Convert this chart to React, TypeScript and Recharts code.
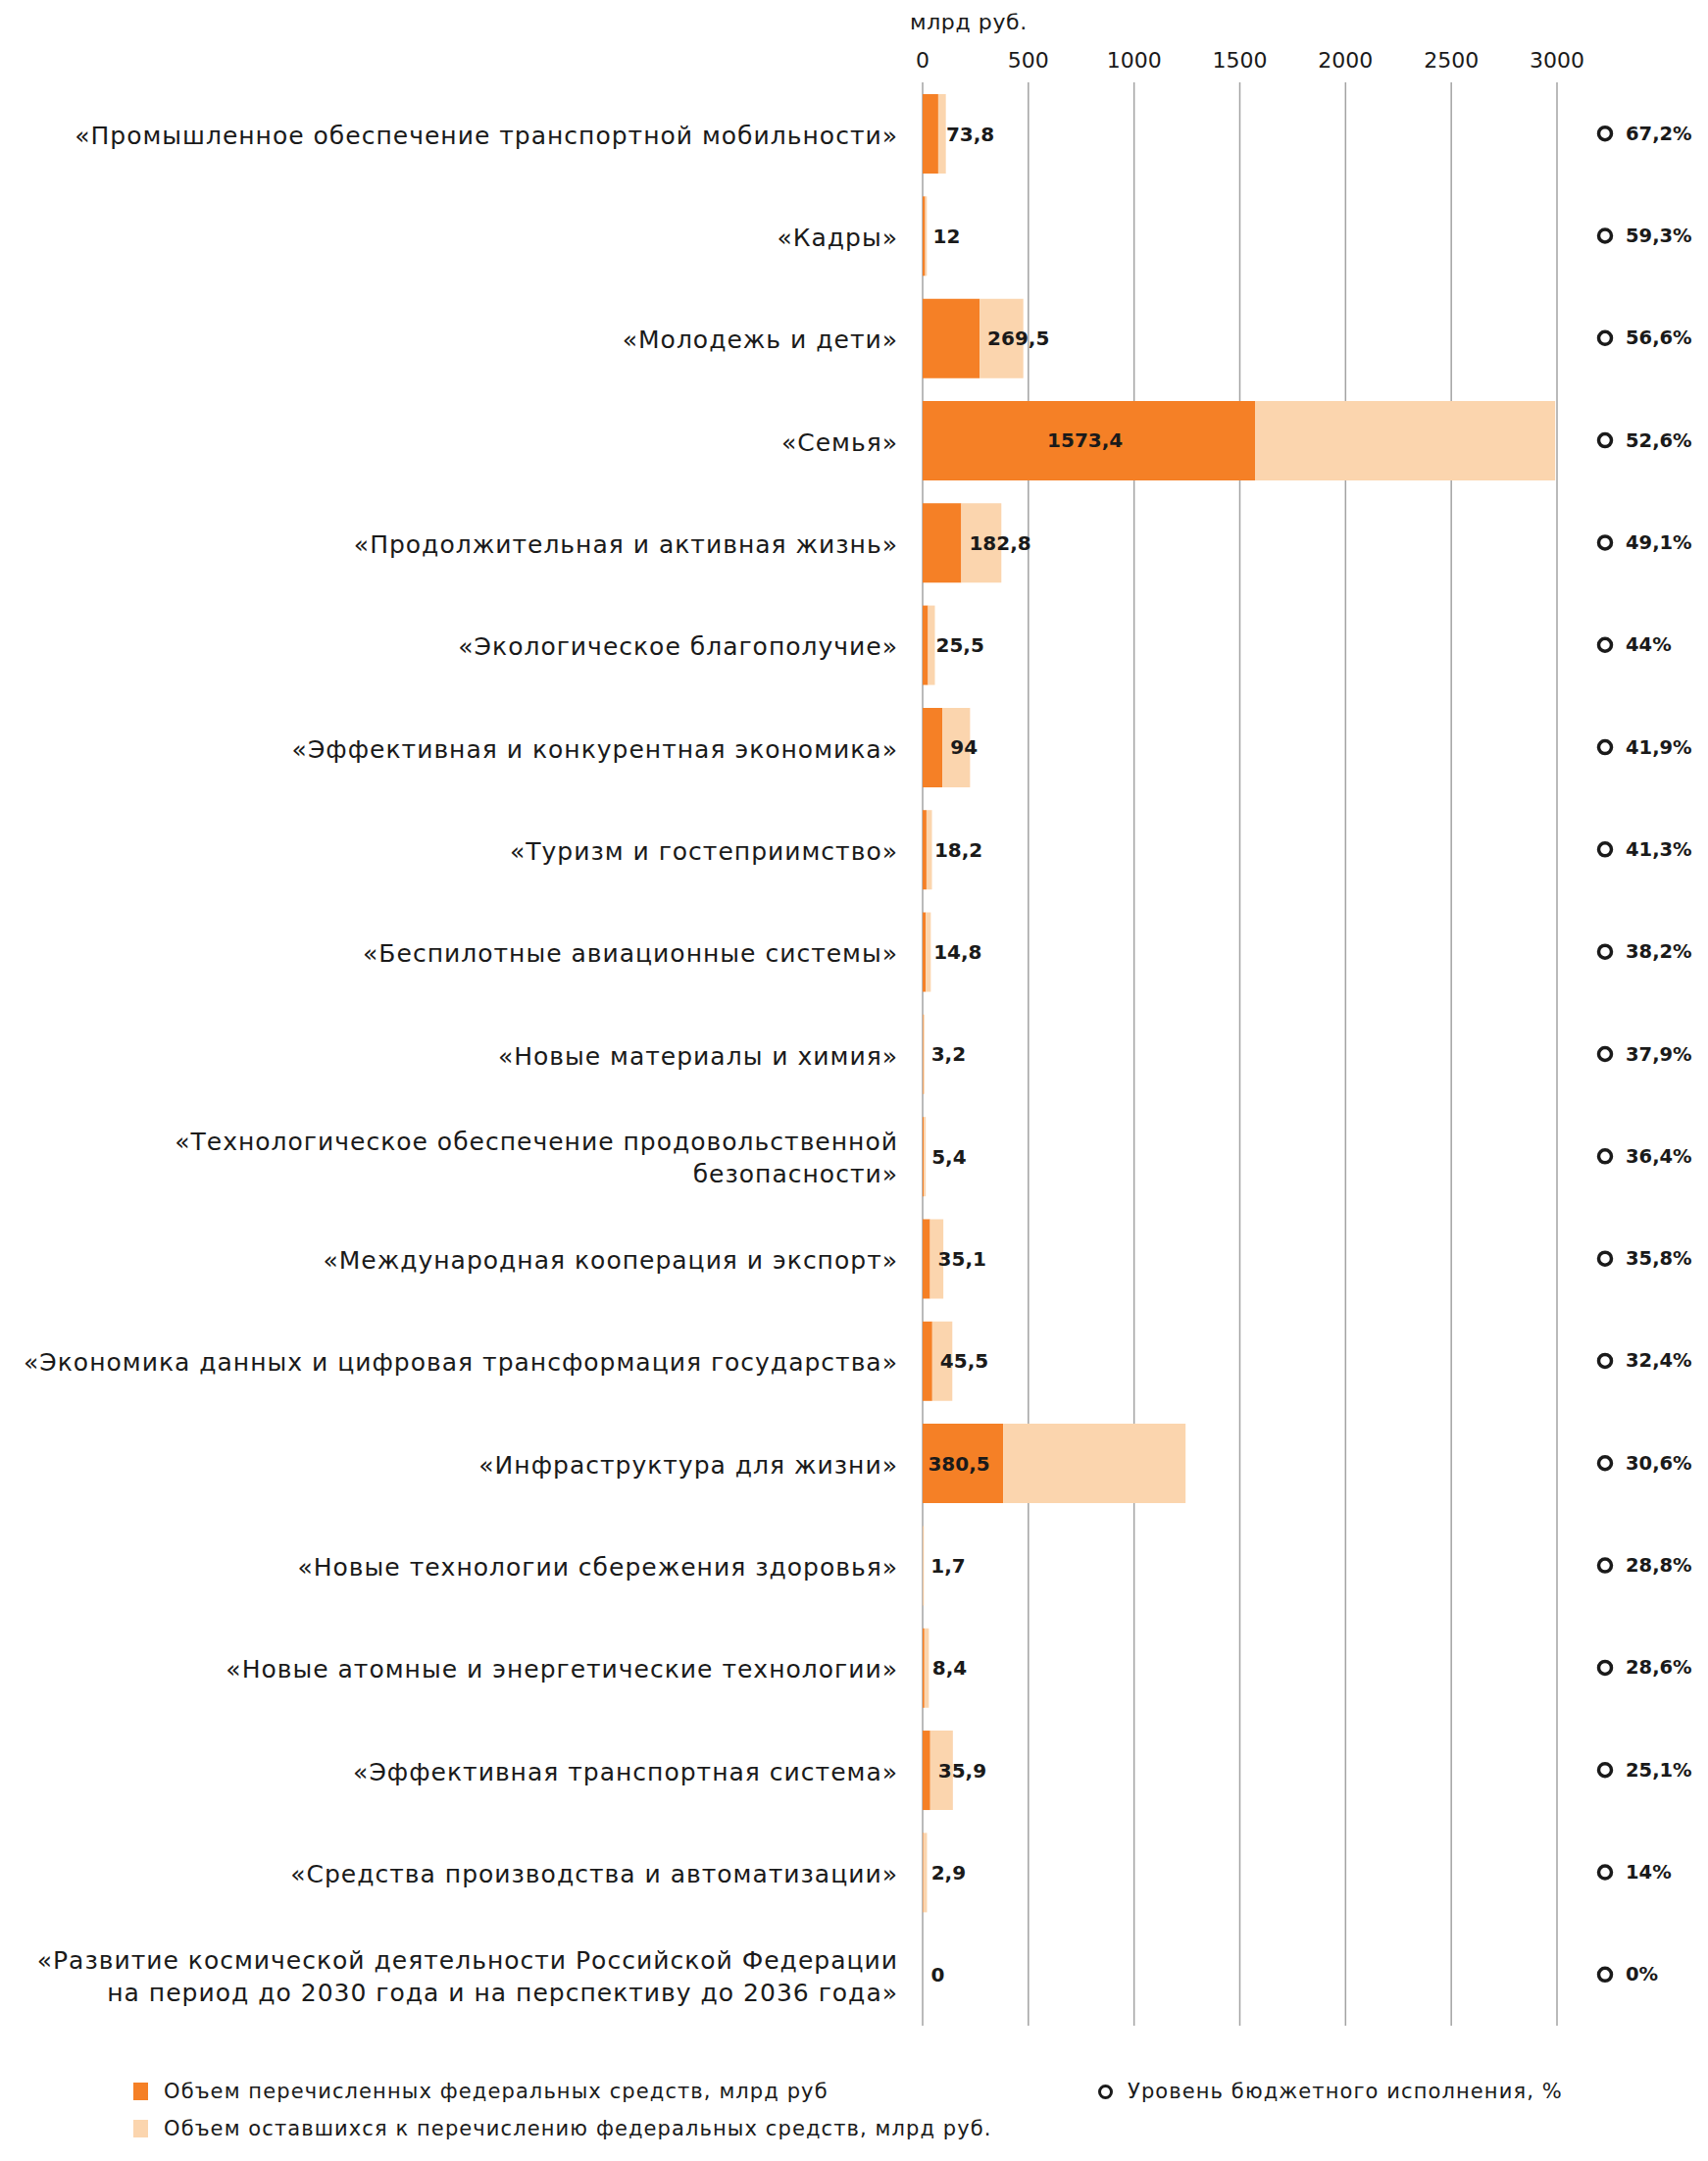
import { Bar, BarChart, CartesianGrid, Cell, LabelList, XAxis, YAxis } from "recharts";

// Национальные проекты: исполнение федерального бюджета
const categories = [
  "«Промышленное обеспечение транспортной мобильности»",
  "«Кадры»",
  "«Молодежь и дети»",
  "«Семья»",
  "«Продолжительная и активная жизнь»",
  "«Экологическое благополучие»",
  "«Эффективная и конкурентная экономика»",
  "«Туризм и гостеприимство»",
  "«Беспилотные авиационные системы»",
  "«Новые материалы и химия»",
  "«Технологическое обеспечение продовольственной\nбезопасности»",
  "«Международная кооперация и экспорт»",
  "«Экономика данных и цифровая трансформация государства»",
  "«Инфраструктура для жизни»",
  "«Новые технологии сбережения здоровья»",
  "«Новые атомные и энергетические технологии»",
  "«Эффективная транспортная система»",
  "«Средства производства и автоматизации»",
  "«Развитие космической деятельности Российской Федерации\nна период до 2030 года и на перспективу до 2036 года»",
];

// млрд руб.
const transferred = [
  73.8, 12, 269.5, 1573.4, 182.8, 25.5, 94, 18.2, 14.8, 3.2, 5.4, 35.1, 45.5,
  380.5, 1.7, 8.4, 35.9, 2.9, 0,
];
const remaining = [
  36.0, 8.2, 206.6, 1417.9, 189.5, 32.5, 130.3, 25.9, 23.9, 5.2, 9.4, 62.9,
  94.9, 863.0, 4.2, 21.0, 107.1, 17.8, 0,
];
// %
const execution = [
  67.2, 59.3, 56.6, 52.6, 49.1, 44, 41.9, 41.3, 38.2, 37.9, 36.4, 35.8, 32.4,
  30.6, 28.8, 28.6, 25.1, 14, 0,
];

const xTicks = [0, 500, 1000, 1500, 2000, 2500, 3000];
const axisUnit = "млрд руб.";
const legendItems = [
  "Объем перечисленных федеральных средств, млрд руб",
  "Объем оставшихся к перечислению федеральных средств, млрд руб.",
  "Уровень бюджетного исполнения, %",
];

const ORANGE = "#f58026";
const PEACH = "#fbd5ae";
const INK = "#1a1a1a";
const FONT = "'DejaVu Sans', 'Noto Sans', sans-serif";

const data = categories.map((name, i) => ({
  name,
  transferred: transferred[i],
  remaining: remaining[i],
  pct: execution[i],
}));

const fmt = (v: number) => String(v).replace(".", ",");

function CategoryTick(props: any) {
  const { x, y, payload } = props;
  const lines = String(payload.value).split("\n");
  const lh = 33;
  const start = -((lines.length - 1) * lh) / 2 + 2;
  return (
    <text
      x={x}
      y={y}
      textAnchor="end"
      fill={INK}
      fontFamily={FONT}
      fontSize={25}
      letterSpacing={1}
    >
      {lines.map((l, i) => (
        <tspan key={i} x={x} dy={i === 0 ? start : lh} dominantBaseline="central">
          {l}
        </tspan>
      ))}
    </text>
  );
}

function PctTick(props: any) {
  const { x, y, payload } = props;
  const row = data.find((d) => d.name === payload.value);
  if (!row) return null;
  return (
    <g>
      <circle cx={x + 49} cy={y} r={6.5} fill="none" stroke={INK} strokeWidth={3.5} />
      <text
        x={x + 70}
        y={y}
        dominantBaseline="central"
        fill={INK}
        fontFamily={FONT}
        fontWeight="bold"
        fontSize={19.5}
      >
        {fmt(row.pct) + "%"}
      </text>
    </g>
  );
}

function ValueLabel(props: any) {
  const { x, y, width, height, value } = props;
  const text = fmt(value);
  const tw = text.length * 13;
  const inside = width > tw + 10;
  return (
    <text
      x={inside ? x + width / 2 - 4 : x + width + 8}
      y={y + height / 2}
      textAnchor={inside ? "middle" : "start"}
      dominantBaseline="central"
      fill={INK}
      fontFamily={FONT}
      fontWeight="bold"
      fontSize={20}
    >
      {text}
    </text>
  );
}

export default function App() {
  return (
    <div
      style={{
        position: "absolute",
        left: 0,
        top: 0,
        width: 1742,
        height: 2204,
        background: "#fff",
        fontFamily: FONT,
      }}
    >
      <div
        style={{
          position: "absolute",
          left: 928,
          top: 9,
          fontSize: 22,
          letterSpacing: 0.6,
          color: INK,
          lineHeight: "28px",
        }}
      >
        {axisUnit}
      </div>

      <BarChart
        layout="vertical"
        width={1742}
        height={2204}
        data={data}
        margin={{ top: 40, right: 0, left: 0, bottom: 138 }}
        barSize={81}
      >
        <CartesianGrid horizontal={false} stroke="#a3a3a3" strokeWidth={1.5} />
        <XAxis
          type="number"
          orientation="top"
          domain={[0, 3000]}
          ticks={xTicks}
          height={44}
          axisLine={false}
          tickLine={false}
          tickSize={0}
          tickMargin={15}
          tick={{ fill: INK, fontSize: 22, fontFamily: FONT }}
        />
        <YAxis
          yAxisId="cat"
          type="category"
          dataKey="name"
          width={941}
          axisLine={false}
          tickLine={false}
          tickSize={0}
          tickMargin={25}
          interval={0}
          tick={<CategoryTick />}
        />
        <YAxis
          yAxisId="pct"
          type="category"
          dataKey="name"
          orientation="right"
          width={154}
          axisLine={false}
          tickLine={false}
          tickSize={0}
          tickMargin={0}
          interval={0}
          tick={<PctTick />}
        />
        <Bar
          yAxisId="cat"
          dataKey="transferred"
          stackId="a"
          fill={ORANGE}
          minPointSize={(v: number) => (v === 0 ? 0.5 : 0)}
          isAnimationActive={false}
        >
          {data.map((d, i) => (
            <Cell key={i} fill={d.transferred === 0 ? "transparent" : ORANGE} />
          ))}
          <LabelList dataKey="transferred" content={<ValueLabel />} />
        </Bar>
        <Bar
          yAxisId="cat"
          dataKey="remaining"
          stackId="a"
          fill={PEACH}
          isAnimationActive={false}
        />
      </BarChart>

      {/* legend */}
      <div
        style={{
          position: "absolute",
          left: 136,
          top: 2120,
          fontSize: 21,
          letterSpacing: 1.1,
          color: INK,
        }}
      >
        <div style={{ display: "flex", alignItems: "center", height: 26 }}>
          <span style={{ width: 15, height: 18, background: ORANGE, marginRight: 16 }} />
          {legendItems[0]}
        </div>
        <div style={{ display: "flex", alignItems: "center", height: 26, marginTop: 12 }}>
          <span style={{ width: 15, height: 18, background: PEACH, marginRight: 16 }} />
          {legendItems[1]}
        </div>
      </div>
      <div
        style={{
          position: "absolute",
          left: 1120,
          top: 2120,
          height: 26,
          display: "flex",
          alignItems: "center",
          fontSize: 21,
          letterSpacing: 1.1,
          color: INK,
        }}
      >
        <span
          style={{
            width: 9,
            height: 9,
            border: `3.5px solid ${INK}`,
            borderRadius: "50%",
            marginRight: 15,
          }}
        />
        {legendItems[2]}
      </div>
    </div>
  );
}
